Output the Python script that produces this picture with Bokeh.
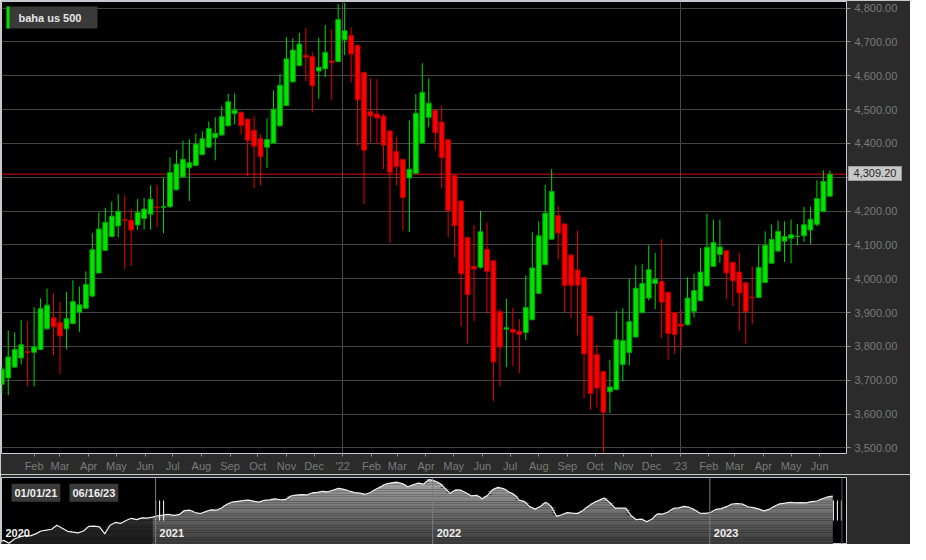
import numpy as np
import pandas as pd
from bokeh.plotting import figure
from bokeh.models import (ColumnDataSource, FixedTicker, SingleIntervalTicker, GridBox, Div,
                          NumeralTickFormatter, Span, Label, BoxAnnotation, Range1d)
from bokeh.embed import file_html
from bokeh.resources import INLINE

# ---------------- data ----------------
symbol = "baha us 500"
first_week = "2020-12-28"   # weekly candles, Monday of each week

opens = [3688, 3707, 3739, 3766, 3785, 3783, 3791, 3852, 3885, 3871,
         3852, 3868, 3901, 3913, 3949, 4017, 4084, 4125, 4156, 4175,
         4173, 4159, 4178, 4191, 4212, 4211, 4213, 4263, 4301, 4328,
         4335, 4367, 4389, 4417, 4425, 4452, 4488, 4492, 4472, 4439,
         4414, 4389, 4401, 4452, 4512, 4582, 4630, 4661, 4657, 4614,
         4621, 4644, 4642, 4706, 4719, 4690, 4610, 4494, 4487, 4481,
         4437, 4376, 4353, 4298, 4312, 4401, 4477, 4498, 4463, 4411,
         4305, 4230, 4122, 4037, 4034, 4087, 4053, 3903, 3851, 3851,
         3845, 3841, 3879, 3957, 4042, 4117, 4187, 4162, 4070, 4026,
         4004, 3890, 3776, 3726, 3666, 3673, 3747, 3782, 3828, 3900,
         3943, 3986, 3992, 3960, 3900, 3866, 3864, 3904, 3935, 3979,
         4037, 4072, 4083, 4049, 4020, 3988, 3946, 3945, 3989, 4046,
         4082, 4111, 4120, 4125, 4127, 4144, 4161, 4199, 4244]
highs = [3742, 3847, 3842, 3879, 3875, 3916, 3942, 3971, 3957, 3931,
         3961, 3996, 3977, 4022, 4135, 4196, 4209, 4228, 4250, 4247,
         4207, 4236, 4239, 4276, 4278, 4298, 4359, 4380, 4408, 4413,
         4429, 4436, 4465, 4477, 4510, 4546, 4548, 4494, 4474, 4480,
         4427, 4474, 4557, 4606, 4714, 4711, 4727, 4741, 4669, 4712,
         4750, 4738, 4812, 4815, 4743, 4692, 4612, 4592, 4590, 4487,
         4439, 4419, 4355, 4468, 4546, 4637, 4592, 4500, 4511, 4413,
         4307, 4232, 4125, 4159, 4201, 4166, 4055, 3912, 3941, 3914,
         3881, 4010, 4138, 4170, 4278, 4324, 4215, 4164, 4074, 4143,
         4006, 3892, 3804, 3728, 3761, 3905, 3913, 4000, 4040, 4043,
         4099, 4077, 4117, 3962, 3902, 3907, 4004, 4015, 4092, 4192,
         4175, 4175, 4085, 4051, 4077, 3990, 4036, 4099, 4140, 4161,
         4172, 4170, 4175, 4161, 4213, 4213, 4291, 4320, 4320]
lows = [3660, 3656, 3736, 3747, 3682, 3682, 3789, 3850, 3774, 3718,
        3791, 3865, 3843, 3910, 3945, 4015, 4082, 4123, 4123, 4029,
        4037, 4144, 4146, 4145, 4152, 4135, 4210, 4261, 4298, 4230,
        4333, 4365, 4387, 4350, 4423, 4450, 4456, 4427, 4304, 4267,
        4276, 4328, 4399, 4450, 4510, 4580, 4628, 4584, 4492, 4532,
        4596, 4529, 4640, 4661, 4580, 4393, 4221, 4402, 4398, 4324,
        4106, 4276, 4141, 4138, 4310, 4399, 4448, 4379, 4267, 4123,
        4063, 3859, 3809, 3874, 4030, 3897, 3639, 3682, 3739, 3742,
        3721, 3819, 3877, 3955, 4040, 4115, 4058, 3902, 3884, 3833,
        3646, 3613, 3620, 3485, 3603, 3670, 3697, 3744, 3826, 3898,
        3936, 3910, 3825, 3761, 3779, 3793, 3862, 3886, 3933, 3977,
        4035, 4047, 3940, 3919, 3845, 3807, 3865, 3943, 3987, 4044,
        4080, 4049, 4046, 4099, 4109, 4103, 4155, 4197, 4243]
closes = [3733, 3769, 3791, 3805, 3782, 3799, 3912, 3922, 3858, 3831,
          3882, 3933, 3923, 3983, 4086, 4147, 4167, 4185, 4199, 4172,
          4144, 4196, 4206, 4235, 4210, 4213, 4314, 4339, 4353, 4343,
          4398, 4414, 4444, 4430, 4479, 4523, 4499, 4453, 4409, 4392,
          4361, 4412, 4501, 4572, 4650, 4676, 4694, 4655, 4570, 4625,
          4669, 4639, 4766, 4733, 4664, 4529, 4380, 4481, 4475, 4395,
          4315, 4331, 4240, 4324, 4489, 4551, 4519, 4432, 4358, 4202,
          4157, 4015, 3953, 4029, 4139, 4022, 3754, 3798, 3855, 3842,
          3835, 3915, 4032, 4127, 4194, 4258, 4135, 3980, 3981, 3981,
          3778, 3661, 3677, 3605, 3680, 3820, 3817, 3873, 3972, 3986,
          4027, 3999, 3931, 3838, 3835, 3860, 3943, 3965, 4020, 4093,
          4107, 4094, 4017, 3994, 3958, 3903, 3944, 4033, 4099, 4116,
          4140, 4125, 4130, 4126, 4160, 4176, 4237, 4288, 4309.2]
last_price = 4309.20

# navigator: weekly closes before the visible range (2020)
nav_first_week = "2020-06-08"
nav_closes_2020 = [3045, 3090, 3010, 3130, 3185, 3225, 3215, 3270, 3350, 3372,
                   3397, 3508, 3427, 3340, 3319, 3298, 3348, 3477, 3483, 3465,
                   3270, 3509, 3585, 3558, 3638, 3699, 3663, 3709, 3703]

month_labels = ["Feb", "Mar", "Apr", "May", "Jun", "Jul", "Aug", "Sep", "Oct", "Nov", "Dec",
                "'22", "Feb", "Mar", "Apr", "May", "Jun", "Jul", "Aug", "Sep", "Oct", "Nov", "Dec",
                "'23", "Feb", "Mar", "Apr", "May", "Jun"]
year_labels = ["2020", "2021", "2022", "2023"]
range_labels = ["01/01/21", "06/16/23"]

# ---------------- helpers ----------------
DAY = 86400000.0


def to_ms(s):
    return pd.Timestamp(s).value / 1e6


FONT = "Liberation Sans"
BG = "#2b2b2b"
FRAME = "#c6c9d8"

W = 910
LEFT, RIGHT = 1, 64
FW = W - LEFT - RIGHT
MAIN_H, TOP, BOTTOM = 474, 1, 21
FH = MAIN_H - TOP - BOTTOM

x0, x1 = to_ms("2020-12-27 17:00"), to_ms("2023-06-30")
y0, y1 = 3483.6, 4819.5


def px_x(px):
    return x0 + px / FW * (x1 - x0)


def px_y(py):
    return y1 - py / FH * (y1 - y0)


dates = pd.date_range(first_week, periods=len(opens), freq="7D")
xs = np.array([d.value / 1e6 for d in dates])
o = np.array(opens, float)
h = np.array(highs, float)
l = np.array(lows, float)
c = np.array(closes, float)
up = c >= o

# ---------------- main chart ----------------
p = figure(width=W, height=MAIN_H, x_range=Range1d(x0, x1), y_range=Range1d(y0, y1),
           output_backend="svg", toolbar_location=None, y_axis_location="right",
           min_border_left=LEFT, min_border_right=RIGHT, min_border_top=TOP,
           min_border_bottom=BOTTOM)
p.background_fill_color = "black"
p.border_fill_color = BG
p.outline_line_color = FRAME
p.outline_line_width = 1

# axes
month_ticks = [d.value / 1e6 for d in pd.date_range("2021-02-01", periods=len(month_labels), freq="MS")]
p.xaxis.ticker = FixedTicker(ticks=month_ticks)
p.xaxis.major_label_overrides = {t: lab for t, lab in zip(month_ticks, month_labels)}
p.yaxis.ticker = SingleIntervalTicker(interval=100, num_minor_ticks=0)
p.yaxis.formatter = NumeralTickFormatter(format="0,0.00")
for ax in (p.xaxis[0], p.yaxis[0]):
    ax.axis_line_color = None
    ax.major_tick_line_color = "#8c8c8c"
    ax.major_tick_in = 0
    ax.minor_tick_line_color = None
    ax.major_label_text_color = "#7a7a7a"
    ax.major_label_text_font = FONT
    ax.major_label_text_font_size = "11px"
p.xaxis.major_tick_out = 3
p.xaxis.major_label_standoff = 3
p.yaxis.major_tick_out = 4
p.yaxis.major_label_standoff = 4

p.ygrid.grid_line_color = "#444444"
p.xgrid.ticker = FixedTicker(ticks=[to_ms("2022-01-01"), to_ms("2023-01-01")])
p.xgrid.grid_line_color = "#4a4a4a"

p.add_layout(Span(location=last_price, dimension="width", line_color="#e00000",
                  line_width=1, level="underlay"))


def candle_src(mask):
    return ColumnDataSource(dict(x=xs[mask], high=h[mask], low=l[mask],
                                 top=np.maximum(o, c)[mask], bottom=np.minimum(o, c)[mask]))


src_up, src_dn = candle_src(up), candle_src(~up)
p.segment(x0="x", y0="low", x1="x", y1="high", source=src_up, line_color="#00d800", line_width=1)
p.segment(x0="x", y0="low", x1="x", y1="high", source=src_dn, line_color="#e80000", line_width=1)
p.vbar(x="x", width=5.2 * DAY, top="top", bottom="bottom", source=src_up,
       fill_color="#00e400", line_color="#00a400", line_width=1)
p.vbar(x="x", width=5.2 * DAY, top="top", bottom="bottom", source=src_dn,
       fill_color="#ff0000", line_color="#b00000", line_width=1)

# legend box
p.add_layout(BoxAnnotation(left=px_x(5), right=px_x(96), top=px_y(5), bottom=px_y(27),
                           fill_color="#3a3a3a", fill_alpha=1, line_color=None))
p.add_layout(BoxAnnotation(left=px_x(5), right=px_x(8), top=px_y(5), bottom=px_y(27),
                           fill_color="#00e000", fill_alpha=1, line_color=None))
p.add_layout(Label(x=px_x(17), y=px_y(16), text=symbol, text_font=FONT, text_font_size="11px",
                   text_font_style="bold", text_color="#e6e6e6", text_baseline="middle"))

# ---------------- last price tag (overlaid on the y axis) ----------------
TAG_W, TAG_H = 54, 15
tag_centre = TOP + (y1 - last_price) / (y1 - y0) * FH
tag = Div(text=f"{last_price:,.2f}", width=TAG_W, height=TAG_H,
          margin=(int(round(tag_centre - TAG_H / 2)), 0, 0, LEFT + FW + 2),
          styles={"background-color": "#c8c8c8", "color": "#262626",
                  "font-family": FONT, "font-size": "11px", "line-height": f"{TAG_H - 2}px",
                  "text-align": "center", "border": "1px solid #9a9a9a",
                  "box-sizing": "border-box", "z-index": "10"})

# ---------------- navigator ----------------
NAV_H, NTOP = 70, 3
nx0, nx1 = to_ms("2020-06-12"), to_ms("2023-06-30")
ny0, ny1 = 2977.0, 4824.0


def npx_x(px):
    return nx0 + px / FW * (nx1 - nx0)


def ref_nav_y(r):  # r = pixels below navigator top in the reference (70px tall)
    return ny1 - r / 70.0 * (ny1 - ny0)


nav = figure(width=W, height=NAV_H, x_range=Range1d(nx0, nx1), y_range=Range1d(ny0, ny1),
             output_backend="svg", toolbar_location=None, x_axis_location=None,
             y_axis_location=None, min_border_left=LEFT, min_border_right=RIGHT,
             min_border_top=NTOP, min_border_bottom=0)
nav.background_fill_color = "black"
nav.border_fill_color = BG
nav.outline_line_color = FRAME
nav.grid.visible = False

nav_dates = pd.date_range(nav_first_week, periods=len(nav_closes_2020), freq="7D")
nav_x_pre = np.array([d.value / 1e6 for d in nav_dates] + [xs[0]])
nav_c_pre = np.array(list(nav_closes_2020) + [c[0]], float)


def gradient(xv, yv, lo_col, hi_col, n=28):
    edges = np.linspace(ny0, ny1, n + 1)
    for k in range(n):
        t = (k + 0.5) / n
        g = int(round(lo_col + (hi_col - lo_col) * t))
        col = "#%02x%02x%02x" % (g, g, g)
        top = np.clip(yv, edges[k], edges[k + 1])
        nav.varea(x=xv, y1=np.full(len(xv), edges[k]), y2=top, fill_color=col, fill_alpha=1)


gradient(nav_x_pre, nav_c_pre, 0x1a, 0x48)
gradient(xs, c, 0x38, 0xa8)
nav.line(np.concatenate([nav_x_pre, xs[1:]]), np.concatenate([nav_c_pre, c[1:]]),
         line_color="#f2f2f2", line_width=1.2)

for yr in ["2021-01-01", "2022-01-01", "2023-01-01"]:
    nav.add_layout(Span(location=to_ms(yr), dimension="height", line_color="#7c7c7c", line_width=1))
nav.add_layout(Span(location=to_ms("2023-06-24"), dimension="height", line_color="#555555", line_width=1))

# handles
px_per_ms = FW / (nx1 - nx0)
for centre in (to_ms("2021-01-01") + 4 / px_per_ms, to_ms("2023-06-18")):
    hx = [centre + k * 2 / px_per_ms for k in (-2, 0, 2)]
    nav.segment(x0=hx, y0=[ref_nav_y(45)] * 3, x1=hx, y1=[ref_nav_y(24)] * 3,
                line_color="white", line_width=1)

# year labels
year_x = [npx_x(4)] + [to_ms(f"{y}-01-01") + 4 / px_per_ms for y in year_labels[1:]]
for yx, lab in zip(year_x, year_labels):
    nav.add_layout(Label(x=yx, y=ref_nav_y(58), text=lab, text_font=FONT, text_font_size="11px",
                         text_font_style="bold", text_color="#f0f0f0", text_baseline="middle"))

# range date boxes
for bx, lab in zip((npx_x(10), npx_x(68)), range_labels):
    nav.add_layout(Label(x=bx, y=ref_nav_y(16), text=lab, text_font=FONT, text_font_size="11px",
                         text_font_style="bold", text_color="#eeeeee", text_baseline="middle",
                         background_fill_color="#3a3a3a", background_fill_alpha=1, padding=3))

layout = GridBox(children=[(p, 0, 0), (nav, 1, 0), (tag, 0, 0)], spacing=0)
open("out.html", "w").write(file_html(layout, INLINE))
